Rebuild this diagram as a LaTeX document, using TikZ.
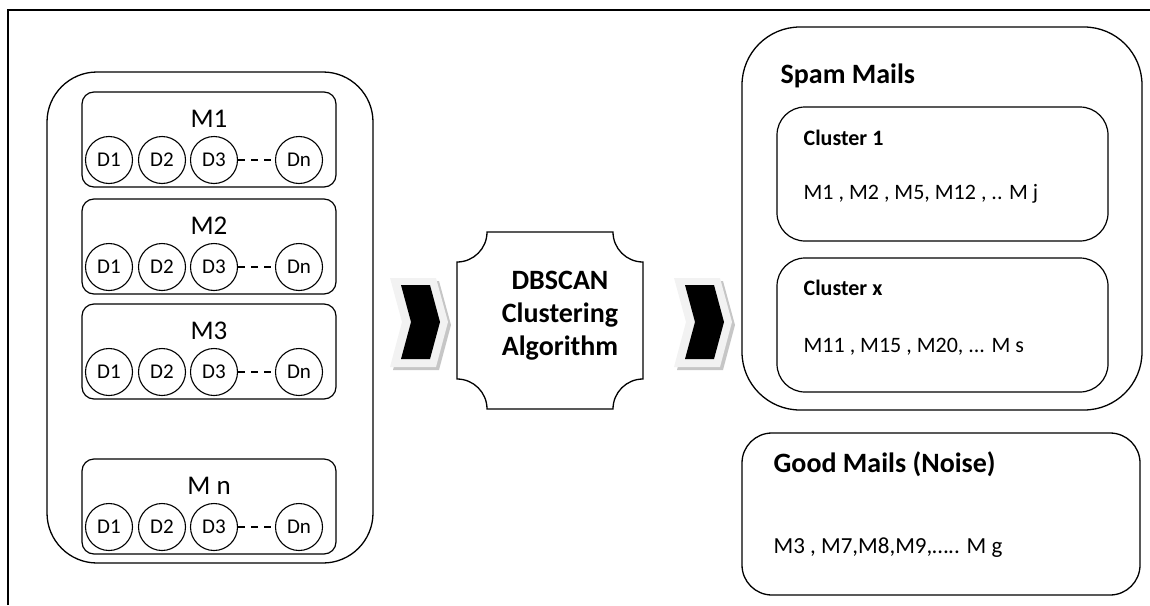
\documentclass[tikz,border=0pt]{standalone}
\usepackage{fontspec}
\setmainfont{Carlito}
\begin{document}
\begin{tikzpicture}[x=1pt,y=-1pt,line width=1.3pt,
  outerbox/.style={draw,line width=1.3pt,rounded corners=50pt,minimum width=326pt,minimum height=491pt,inner sep=0pt},
  mbox/.style={draw,line width=1.2pt,rounded corners=12pt,minimum width=254pt,minimum height=95pt,inner sep=0pt},
  dcirc/.style={draw,circle,line width=1.1pt,minimum size=47pt,inner sep=0pt,font=\fontsize{21}{24}\selectfont},
  mlabel/.style={font=\fontsize{27}{30}\selectfont,anchor=base,inner sep=0pt},
  bigbox/.style={draw,line width=1.3pt,inner sep=0pt},
  clbox/.style={draw,line width=1.2pt,rounded corners=28pt,minimum width=331pt,minimum height=134pt,inner sep=0pt},
  headtxt/.style={font=\bfseries\fontsize{28}{32}\selectfont,anchor=base west,inner sep=0pt},
  subtxt/.style={font=\bfseries\fontsize{22}{26}\selectfont,anchor=base west,inner sep=0pt},
  bodytxt/.style={font=\fontsize{22}{26}\selectfont,anchor=base west,inner sep=0pt},
  chevlight/.style={fill=gray!10,draw=none},
  chevshadow/.style={fill=gray!45,draw=none},
  chevdark/.style={fill=black,draw=none}
]
\useasboundingbox (0,0) rectangle (1150,605);
% frame
\draw[line width=1.3pt] (8,605) -- (8,10) -- (1150,10);

% left container
\node[outerbox] (left) at (210,317.5) {};
\foreach \nm/\t/\lab in {m1/92/M1,m2/199/M2,m3/304/M3,mn/459/M n}{
  \node[mbox] (\nm) at ({209},{\t+47.5}) {};
  \node[mlabel] (\nm-lab) at ({209},{\t+35}) {\lab};
  \node[dcirc] (\nm-d1) at ({109},{\t+68}) {D1};
  \node[dcirc] (\nm-d2) at ({162},{\t+68}) {D2};
  \node[dcirc] (\nm-d3) at ({214},{\t+68}) {D3};
  \node[dcirc] (\nm-dn) at ({299},{\t+68}) {Dn};
  \draw[line width=1.1pt,dash pattern=on 7pt off 6pt] (\nm-d3) -- (\nm-dn);
}

% chevrons
\foreach \dx in {0,284}{
  \begin{scope}[xshift=\dx]
    \fill[chevshadow] (393,281) -- (439,281) -- (451,325) -- (439,370) -- (393,370) -- (405,325) -- cycle;
    \fill[chevlight] (390,278) -- (436,278) -- (448,322) -- (436,367) -- (390,367) -- (402,322) -- cycle;
    \fill[chevdark] (401,285) -- (430,285) -- (440,322) -- (430,359) -- (401,359) -- (411,322) -- cycle;
  \end{scope}
}

% DBSCAN plaque
\draw[line width=1.3pt] (487,232) -- (613,232)
  arc[start angle=180,end angle=90,radius=30] -- (643,379)
  arc[start angle=270,end angle=180,radius=30] -- (487,409)
  arc[start angle=0,end angle=-90,radius=30] -- (457,262)
  arc[start angle=90,end angle=0,radius=30] -- cycle;
\node[align=center,font=\bfseries\fontsize{28}{33}\selectfont,inner sep=0pt] (alg) at (560,316) {DBSCAN\\Clustering\\Algorithm};

% spam mails
\node[bigbox,rounded corners=58pt,minimum width=400pt,minimum height=383pt] (spam) at (942,218.5) {};
\node[headtxt] (spamlab) at (780,83) {Spam Mails};
\node[clbox] (c1) at (942.5,174) {};
\node[subtxt] (c1lab) at (803,145) {Cluster 1};
\node[bodytxt] (c1txt) at (803,199) {M1 , M2 , M5, M12 , .. M j};
\node[clbox] (cx) at (942.5,325) {};
\node[subtxt] (cxlab) at (803,295) {Cluster x};
\node[bodytxt] (cxtxt) at (803,352) {M11 , M15 , M20, ... M s};

% good mails
\node[bigbox,rounded corners=30pt,minimum width=398pt,minimum height=162pt] (good) at (941,514) {};
\node[headtxt] (goodlab) at (773,472) {Good Mails (Noise)};
\node[bodytxt,font=\fontsize{23}{27}\selectfont] (goodtxt) at (773,553) {M3 , M7,M8,M9,….. M g};
\end{tikzpicture}
\end{document}
